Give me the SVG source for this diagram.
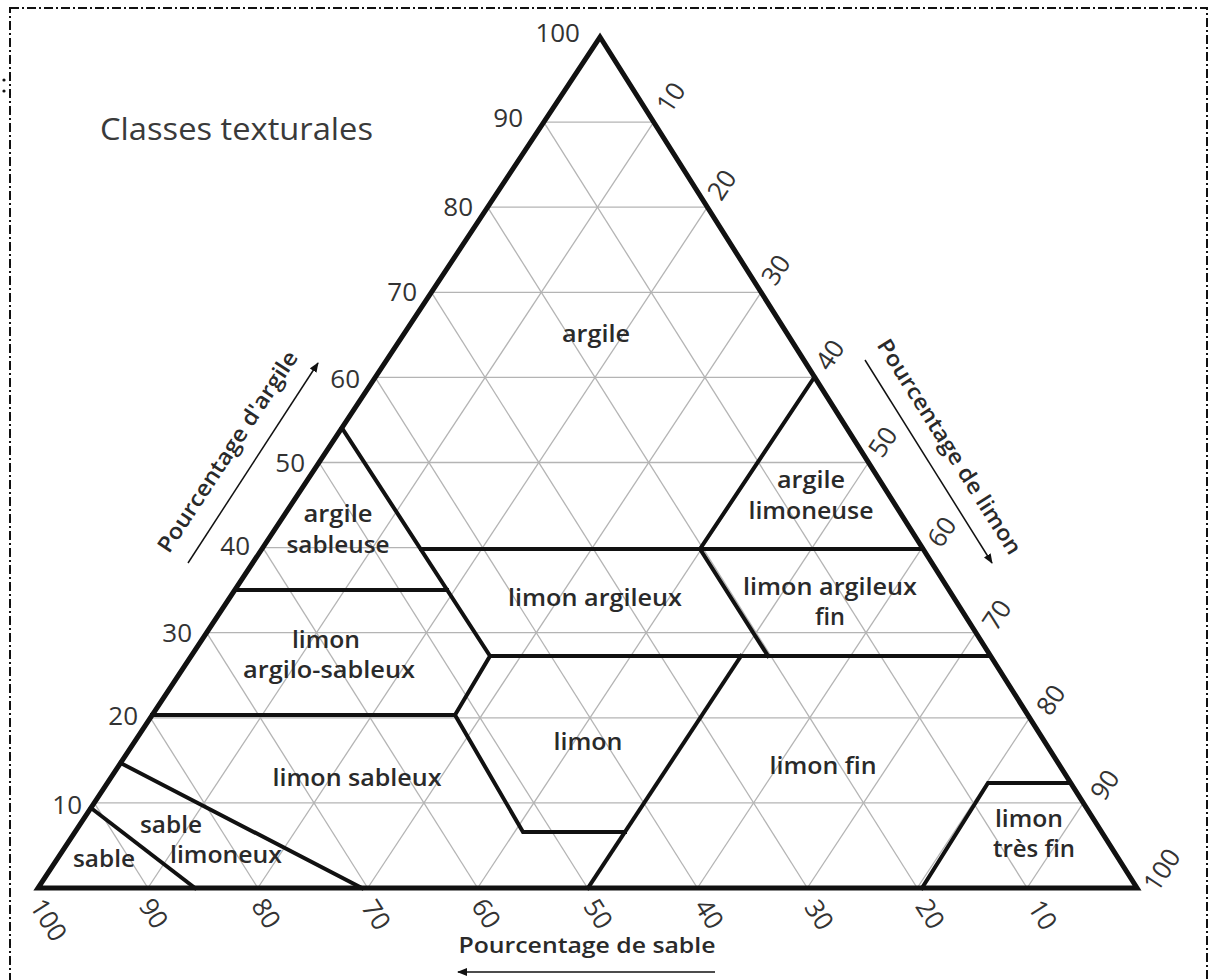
<svg xmlns="http://www.w3.org/2000/svg" width="1209" height="980" viewBox="0 0 1209 980">
<style>
.grid line{stroke:#b4b4b4;stroke-width:1.3}
.bd{fill:none;stroke:#111;stroke-width:4;stroke-linejoin:miter;stroke-linecap:square}
.outer{fill:none;stroke:#111;stroke-width:5;stroke-linejoin:miter}
.tick{font-family:"Open Sans","Noto Sans",sans-serif;font-size:26px;fill:#333}
.reg{font-family:"Open Sans","Noto Sans",sans-serif;font-size:24px;font-weight:600;fill:#2a2a2a;text-anchor:middle}
.ax{font-family:"Open Sans","Noto Sans",sans-serif;font-size:22px;font-weight:600;fill:#2a2a2a;text-anchor:middle}
.arr{stroke:#111;stroke-width:1.5;fill:none}
</style>
<defs>
<marker id="ah" viewBox="0 0 10 8" refX="9" refY="4" markerWidth="10" markerHeight="8" markerUnits="userSpaceOnUse" orient="auto">
<path d="M0,0 L10,4 L0,8 z" fill="#111"/>
</marker>
</defs>
<rect width="1209" height="980" fill="#fff"/>
<rect x="10" y="8" width="1197" height="990" fill="none" stroke="#111" stroke-width="2" stroke-dasharray="9 3 2 3"/>
<circle cx="4" cy="80" r="1.6" fill="#111"/>
<circle cx="4" cy="91" r="1.6" fill="#111"/>

<g id="grid" class="grid">
<line x1="94.2" y1="802.9" x2="1083.3" y2="802.9"/>
<line x1="150.4" y1="717.8" x2="1029.6" y2="717.8"/>
<line x1="206.6" y1="632.7" x2="975.9" y2="632.7"/>
<line x1="262.8" y1="547.6" x2="922.2" y2="547.6"/>
<line x1="319" y1="462.5" x2="868.5" y2="462.5"/>
<line x1="375.2" y1="377.4" x2="814.8" y2="377.4"/>
<line x1="431.4" y1="292.3" x2="761.1" y2="292.3"/>
<line x1="487.6" y1="207.2" x2="707.4" y2="207.2"/>
<line x1="543.8" y1="122.1" x2="653.7" y2="122.1"/>
<line x1="653.7" y1="122.1" x2="147.9" y2="888"/>
<line x1="707.4" y1="207.2" x2="257.8" y2="888"/>
<line x1="761.1" y1="292.3" x2="367.7" y2="888"/>
<line x1="814.8" y1="377.4" x2="477.6" y2="888"/>
<line x1="868.5" y1="462.5" x2="587.5" y2="888"/>
<line x1="922.2" y1="547.6" x2="697.4" y2="888"/>
<line x1="975.9" y1="632.7" x2="807.3" y2="888"/>
<line x1="1029.6" y1="717.8" x2="917.2" y2="888"/>
<line x1="1083.3" y1="802.9" x2="1027.1" y2="888"/>
<line x1="543.8" y1="122.1" x2="1027.1" y2="888"/>
<line x1="487.6" y1="207.2" x2="917.2" y2="888"/>
<line x1="431.4" y1="292.3" x2="807.3" y2="888"/>
<line x1="375.2" y1="377.4" x2="697.4" y2="888"/>
<line x1="319" y1="462.5" x2="587.5" y2="888"/>
<line x1="262.8" y1="547.6" x2="477.6" y2="888"/>
<line x1="206.6" y1="632.7" x2="367.7" y2="888"/>
<line x1="150.4" y1="717.8" x2="257.8" y2="888"/>
<line x1="94.2" y1="802.9" x2="147.9" y2="888"/>
</g>

<g id="boundaries">
<polyline class="bd" points="342,428 490,656 455,715 523,832 625,832"/>
<line class="bd" x1="235" y1="590" x2="447" y2="590"/>
<line class="bd" x1="152" y1="715" x2="455" y2="715"/>
<line class="bd" x1="421" y1="549" x2="923" y2="549"/>
<line class="bd" x1="490" y1="656" x2="990" y2="656"/>
<polyline class="bd" points="814.5,377 700,549 768,656"/>
<line class="bd" x1="741" y1="656" x2="588" y2="888"/>
<polyline class="bd" points="922,888 988,783 1070,783"/>
<line class="bd" x1="120.5" y1="763" x2="362" y2="888"/>
<line class="bd" x1="91" y1="808" x2="195" y2="888"/>
<polygon class="outer" points="600,37 1137,888 38,888"/>
</g>

<g id="title">
<text x="100" y="140" font-family="'Open Sans','Noto Sans',sans-serif" font-size="31" fill="#3a3a3a" textLength="273" lengthAdjust="spacingAndGlyphs">Classes texturales</text>
</g>

<g id="clay-ticks" class="tick" text-anchor="end">
<text x="82" y="814">10</text>
<text x="138" y="725">20</text>
<text x="192" y="642">30</text>
<text x="250" y="555">40</text>
<text x="305" y="472">50</text>
<text x="360" y="388">60</text>
<text x="417" y="301">70</text>
<text x="473" y="216">80</text>
<text x="523" y="127">90</text>
<text x="580" y="42">100</text>
</g>

<g id="silt-ticks" class="tick" text-anchor="middle">
<text transform="translate(671,97.5) rotate(-56.6)" y="9">10</text>
<text transform="translate(722,185) rotate(-56.6)" y="9">20</text>
<text transform="translate(776,270) rotate(-56.6)" y="9">30</text>
<text transform="translate(830,355) rotate(-56.6)" y="9">40</text>
<text transform="translate(883,442) rotate(-56.6)" y="9">50</text>
<text transform="translate(942,532) rotate(-56.6)" y="9">60</text>
<text transform="translate(997,615) rotate(-56.6)" y="9">70</text>
<text transform="translate(1051,700) rotate(-56.6)" y="9">80</text>
<text transform="translate(1105,785) rotate(-56.6)" y="9">90</text>
<text transform="translate(1162,870) rotate(-56.6)" y="9">100</text>
</g>

<g id="sand-ticks" class="tick" text-anchor="middle">
<text transform="translate(48.5,920) rotate(57.7)" y="9">100</text>
<text transform="translate(153.5,913.5) rotate(57.7)" y="9">90</text>
<text transform="translate(266,913.5) rotate(57.7)" y="9">80</text>
<text transform="translate(376,915) rotate(57.7)" y="9">70</text>
<text transform="translate(486,913.5) rotate(57.7)" y="9">60</text>
<text transform="translate(598,914) rotate(57.7)" y="9">50</text>
<text transform="translate(709,914) rotate(57.7)" y="9">40</text>
<text transform="translate(819,915) rotate(57.7)" y="9">30</text>
<text transform="translate(930,914) rotate(57.7)" y="9">20</text>
<text transform="translate(1042.5,915) rotate(57.7)" y="9">10</text>
</g>

<g id="argile"><text class="reg" x="596" y="342" textLength="68" lengthAdjust="spacingAndGlyphs">argile</text></g>
<g id="argile-sableuse">
<text class="reg" x="338" y="522" textLength="69" lengthAdjust="spacingAndGlyphs">argile</text>
<text class="reg" x="338" y="553" textLength="103" lengthAdjust="spacingAndGlyphs">sableuse</text>
</g>
<g id="limon-argileux"><text class="reg" x="595" y="606" textLength="174" lengthAdjust="spacingAndGlyphs">limon argileux</text></g>
<g id="argile-limoneuse">
<text class="reg" x="811" y="488" textLength="68" lengthAdjust="spacingAndGlyphs">argile</text>
<text class="reg" x="811" y="519" textLength="125" lengthAdjust="spacingAndGlyphs">limoneuse</text>
</g>
<g id="limon-argileux-fin">
<text class="reg" x="830" y="595" textLength="174" lengthAdjust="spacingAndGlyphs">limon argileux</text>
<text class="reg" x="830" y="625" textLength="30" lengthAdjust="spacingAndGlyphs">fin</text>
</g>
<g id="limon-argilo-sableux">
<text class="reg" x="326" y="648" textLength="68" lengthAdjust="spacingAndGlyphs">limon</text>
<text class="reg" x="329" y="678" textLength="172" lengthAdjust="spacingAndGlyphs">argilo-sableux</text>
</g>
<g id="limon-sableux"><text class="reg" x="357" y="786" textLength="169" lengthAdjust="spacingAndGlyphs">limon sableux</text></g>
<g id="limon"><text class="reg" x="588" y="750" textLength="69" lengthAdjust="spacingAndGlyphs">limon</text></g>
<g id="limon-fin"><text class="reg" x="823" y="774" textLength="107" lengthAdjust="spacingAndGlyphs">limon fin</text></g>
<g id="sable"><text class="reg" x="104" y="867" textLength="62" lengthAdjust="spacingAndGlyphs">sable</text></g>
<g id="sable-limoneux">
<text class="reg" x="171" y="833" textLength="62" lengthAdjust="spacingAndGlyphs">sable</text>
<text class="reg" x="226" y="863" textLength="112" lengthAdjust="spacingAndGlyphs">limoneux</text>
</g>
<g id="limon-tres-fin">
<text class="reg" x="1029" y="827" textLength="68" lengthAdjust="spacingAndGlyphs">limon</text>
<text class="reg" x="1034" y="857" textLength="82" lengthAdjust="spacingAndGlyphs">très fin</text>
</g>

<g id="axis-argile">
<text class="ax" transform="translate(228,452) rotate(-56.6)" y="7" textLength="236" lengthAdjust="spacingAndGlyphs">Pourcentage d'argile</text>
</g>
<g id="axis-limon">
<text class="ax" transform="translate(949,447) rotate(57.7)" y="7" textLength="250" lengthAdjust="spacingAndGlyphs">Pourcentage de limon</text>
</g>
<g id="axis-sable">
<text class="ax" x="587" y="953" textLength="257" lengthAdjust="spacingAndGlyphs">Pourcentage de sable</text>
</g>
<g id="connectors">
<line class="arr" x1="188" y1="563" x2="318" y2="363" marker-end="url(#ah)"/>
<line class="arr" x1="865" y1="360" x2="992" y2="563" marker-end="url(#ah)"/>
<line class="arr" x1="715" y1="972" x2="458" y2="972" marker-end="url(#ah)"/>
</g>
</svg>
